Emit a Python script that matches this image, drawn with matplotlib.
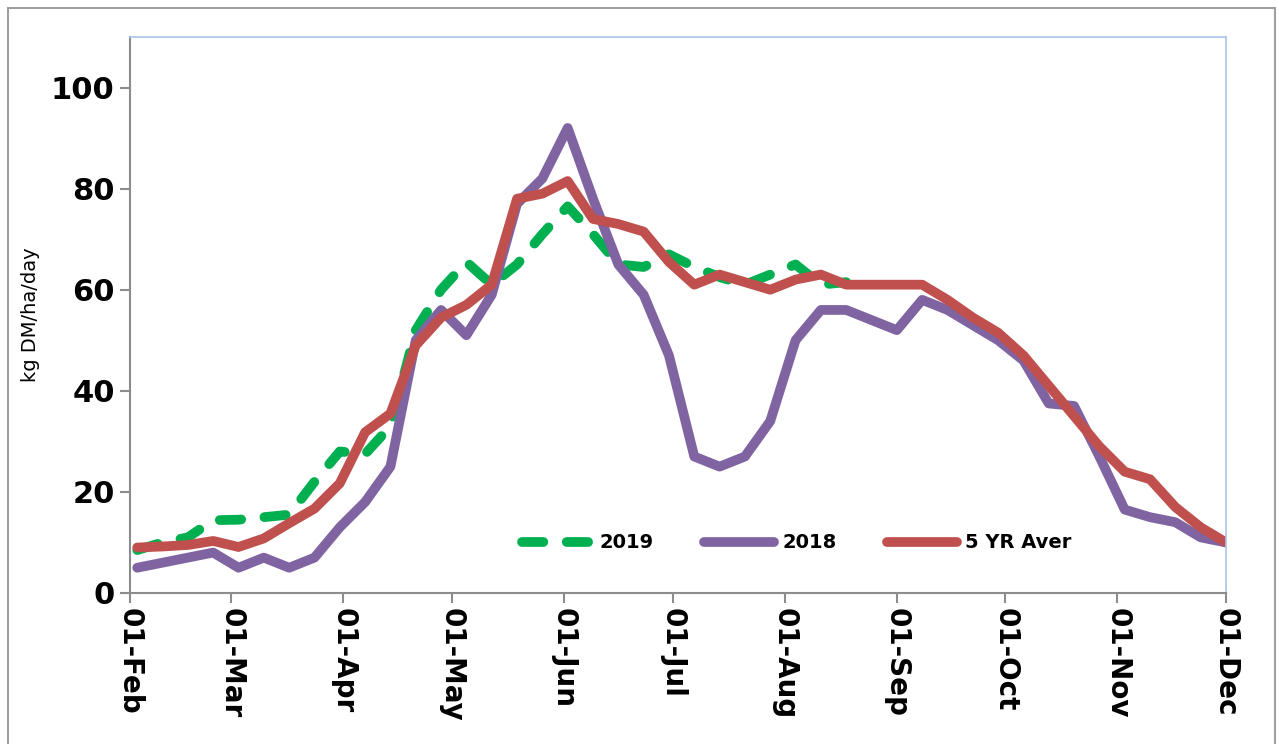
import matplotlib
matplotlib.use("Agg")
import matplotlib.pyplot as plt
import matplotlib.dates as mdates
import pandas as pd
from matplotlib.patches import Rectangle

# weekly readings (Sundays), 03-Feb to 01-Dec
weeks = pd.date_range("2019-02-03", "2019-12-01", freq="7D")

growth_2018 = [5, 6, 7, 8, 5, 7, 5, 7, 13, 18, 25, 50, 56, 51, 59, 77, 82, 92,
               78, 65, 59, 47, 27, 25, 27, 34, 50, 56, 56, 54, 52, 58, 56, 53,
               50, 46, 37.5, 37, 27, 16.5, 15, 14, 11, 10]

avg_5yr = [9, 9.2, 9.5, 10.3, 9.1, 10.8, 13.8, 16.7, 21.7, 31.8, 35.5, 49, 54.5,
           57, 61, 78, 79, 81.5, 74, 73, 71.5, 65.5, 61, 63, 61.5, 60, 62, 63,
           61, 61, 61, 61, 58, 54.5, 51.5, 47, 41, 35, 29, 24, 22.5, 17, 13, 10]

# 2019 only runs to late August
growth_2019 = [8.5, 10, 11, 14.4, 14.5, 15, 15.5, 22, 28, 27.5, 33, 52, 60, 65.5,
               61, 65, 71, 76.5, 71, 65, 64.5, 67, 64.5, 62.5, 61, 63, 65, 61, 61.5]

month_ticks = pd.date_range("2019-02-01", "2019-12-01", freq="MS")

fig = plt.figure(figsize=(12.79, 7.44), dpi=100)
ax = fig.add_axes([130/1279, 1 - 593/744, 1096/1279, 556/744])

ax.plot(weeks[:len(growth_2019)], growth_2019, color="#00B050", lw=7,
        linestyle=(0, (2.2, 2.4)), dash_capstyle="round", label="2019")
ax.plot(weeks, growth_2018, color="#8064A2", lw=7, solid_capstyle="round",
        solid_joinstyle="round", label="2018")
ax.plot(weeks, avg_5yr, color="#C0504D", lw=7, solid_capstyle="round",
        solid_joinstyle="round", label="5 YR Aver")

ax.set_xlim(month_ticks[0], month_ticks[-1])
ax.set_ylim(0, 110)
ax.set_yticks(range(0, 101, 20))
ax.set_xticks(month_ticks)
ax.xaxis.set_major_formatter(mdates.DateFormatter("%d-%b"))

for lab in ax.get_yticklabels():
    lab.set_fontweight("bold")
    lab.set_fontsize(22)
for lab in ax.get_xticklabels():
    lab.set_rotation(-90)
    lab.set_fontsize(20)
    lab.set_fontweight("bold")

ax.tick_params(axis="both", direction="out", length=7, width=1.5,
               color="#8c8c8c", pad=4)
ax.set_ylabel("kg DM/ha/day", fontsize=14, labelpad=8)

for s in ["left", "bottom"]:
    ax.spines[s].set_color("#8c8c8c")
    ax.spines[s].set_linewidth(1.5)
for s in ["top", "right"]:
    ax.spines[s].set_color("#a9c4e8")
    ax.spines[s].set_linewidth(1.2)

leg = ax.legend(loc="center", bbox_to_anchor=(0.608, 0.09), ncol=3, frameon=False,
                handlelength=3.6, columnspacing=2.6, handletextpad=0.4,
                prop={"size": 14, "weight": "bold"})

fig.patches.append(Rectangle((8/1279, -0.02), 1267/1279, 1.02 - 8/744,
                             transform=fig.transFigure, fill=False,
                             edgecolor="#a0a0a0", lw=1.5))

fig.savefig("out.png", dpi=100)
